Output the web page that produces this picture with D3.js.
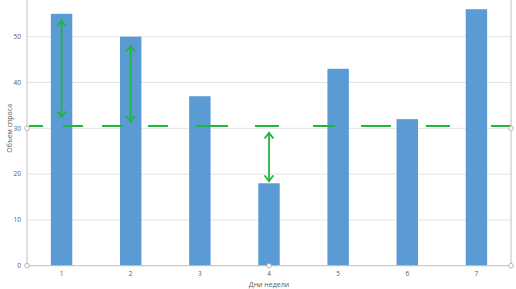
<!DOCTYPE html>
<html><head><meta charset="utf-8">
<script src="https://cdn.jsdelivr.net/npm/d3@7/dist/d3.min.js"></script>
<style>
html,body{margin:0;padding:0;background:#fff;}
svg{display:block;}
text{font-family:"Open Sans","Liberation Sans",sans-serif;fill:#595959;}
</style></head>
<body>
<script>
// data
const days = ["1","2","3","4","5","6","7"];
const demand = [55, 50, 37, 18, 43, 32, 56];
const yTicks = [0, 10, 20, 30, 40, 50];
const xTitle = "Дни недели";
const yTitle = "Объем спроса";
// hand-drawn annotation: reference level and arrows (day, from value, to value)
const refLevel = 30.5;
const arrowDays = ["1", "2", "4"];
const arrowFrom = [53.5, 48, 29];
const arrowTo = [32.5, 31.5, 18.5];

const W = 516, H = 289;
const pLeft = 27, pRight = 511, pBottom = 265.7, pTop = -9.1;

const svg = d3.select("body").append("svg").attr("width", W).attr("height", H);

const x = d3.scaleBand().domain(days).range([pLeft, pRight]).paddingInner(0.69).paddingOuter(0.345);
const y = d3.scaleLinear().domain([0, 60]).range([pBottom, pTop]);

// gridlines
svg.append("g").selectAll("line").data(yTicks.filter(d => d > 0)).join("line")
  .attr("x1", pLeft).attr("x2", pRight)
  .attr("y1", d => y(d)).attr("y2", d => y(d))
  .attr("stroke", "#e3e3e3").attr("stroke-width", 1);

// bars
svg.append("g").selectAll("rect").data(demand).join("rect")
  .attr("x", (d, i) => x(days[i]))
  .attr("width", x.bandwidth())
  .attr("y", d => y(d))
  .attr("height", d => y(0) - y(d))
  .attr("fill", "#5b9bd5");

// plot borders
svg.append("line").attr("x1", pLeft).attr("x2", pLeft).attr("y1", pTop).attr("y2", pBottom).attr("stroke", "#bfbfbf");
svg.append("line").attr("x1", pRight).attr("x2", pRight).attr("y1", pTop).attr("y2", pBottom).attr("stroke", "#bfbfbf");
svg.append("line").attr("x1", pLeft).attr("x2", pRight).attr("y1", pBottom).attr("y2", pBottom).attr("stroke", "#bfbfbf");

// y tick labels
svg.append("g").selectAll("text").data(yTicks).join("text")
  .attr("x", 21).attr("y", d => y(d)).attr("dy", "0.35em")
  .attr("text-anchor", "end").attr("font-size", 6.5).text(d => d);

// x tick labels
svg.append("g").selectAll("text").data(days).join("text")
  .attr("x", d => x(d) + x.bandwidth() / 2).attr("y", 273.5).attr("dy", "0.35em")
  .attr("text-anchor", "middle").attr("font-size", 6.5).text(d => d);

// axis titles
svg.append("text").attr("x", (pLeft + pRight) / 2).attr("y", 284.5).attr("dy", "0.35em")
  .attr("text-anchor", "middle").attr("font-size", 7).text(xTitle);
svg.append("text").attr("transform", `translate(10,${(pTop + pBottom) / 2}) rotate(-90)`)
  .attr("dy", "0.35em").attr("text-anchor", "middle").attr("font-size", 7).text(yTitle);

// annotation (green)
const green = "#22b53c";
svg.append("line").attr("x1", 29).attr("x2", pRight).attr("y1", y(refLevel)).attr("y2", y(refLevel))
  .attr("stroke", green).attr("stroke-width", 2)
  .attr("stroke-dasharray", "14,20,20,19,21,25,20,28,32,27,24,34,22,26,30,35,24,41,20,10");

const ag = svg.append("g").attr("fill", "none").attr("stroke", green).attr("stroke-width", 1.8).attr("stroke-linecap", "round");
arrowDays.forEach((d, i) => {
  const cx = x(d) + x.bandwidth() / 2;
  const y1 = y(arrowFrom[i]), y2 = y(arrowTo[i]);
  ag.append("path").attr("d", `M${cx},${y1}L${cx},${y2}`);
  ag.append("path").attr("d", `M${cx - 4},${y1 + 5}L${cx},${y1}L${cx + 4},${y1 + 5}`);
  ag.append("path").attr("d", `M${cx - 4},${y2 - 5}L${cx},${y2}L${cx + 4},${y2 - 5}`);
});

// selection handles
const handles = [[pLeft, pBottom], [(pLeft + pRight) / 2, pBottom], [pRight, pBottom], [pLeft, (pTop + pBottom) / 2], [pRight, (pTop + pBottom) / 2]];
svg.append("g").selectAll("circle").data(handles).join("circle")
  .attr("cx", d => d[0]).attr("cy", d => d[1]).attr("r", 2.3)
  .attr("fill", "#fff").attr("stroke", "#a6a6a6").attr("stroke-width", 0.8);
</script>
</body></html>
